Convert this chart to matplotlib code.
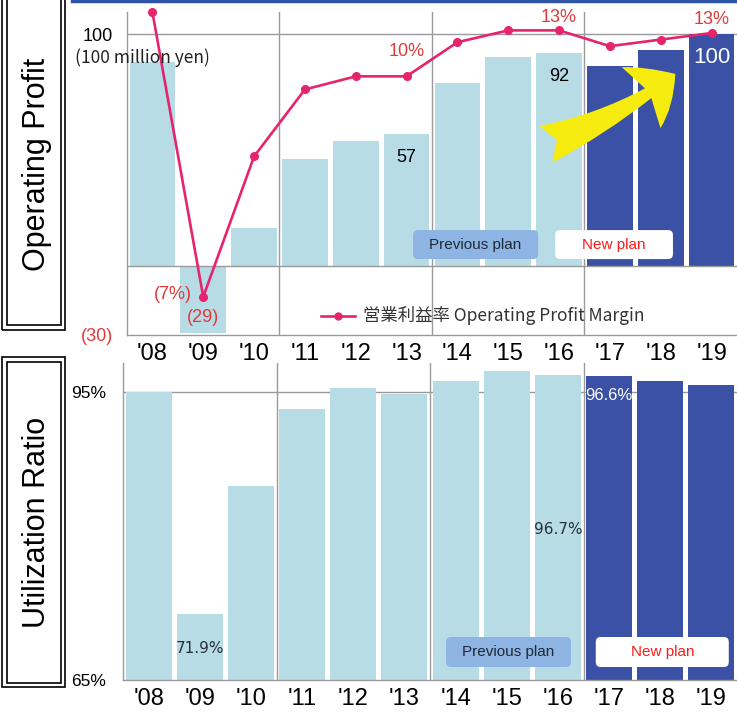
import matplotlib.pyplot as plt
import numpy as np
from matplotlib.patches import Rectangle, FancyBboxPatch, FancyArrowPatch, ArrowStyle
from matplotlib.lines import Line2D

# --- data ---
years = ["'08", "'09", "'10", "'11", "'12", "'13", "'14", "'15", "'16", "'17", "'18", "'19"]
profit = [88, -29, 16, 46, 54, 57, 79, 90, 92, 86, 93, 100]          # 100 million yen
margin = [14.7, -7, 3.7, 8.8, 9.8, 9.8, 12.4, 13.3, 13.3, 12.1, 12.6, 13.1]  # %
utilization = [95.0, 71.9, 85.2, 93.2, 95.4, 94.8, 96.1, 97.2, 96.7, 96.6, 96.1, 95.7]  # %
new_plan = [False] * 9 + [True] * 3

LIGHT = '#B7DCE6'
DARK = '#3A51A5'
PINK = '#E6246E'
RED = '#E03A3A'
GRID = '#9A9A9A'
NARROW = ['Liberation Sans Narrow', 'Liberation Sans', 'DejaVu Sans']
ARIAL = ['Liberation Sans', 'DejaVu Sans']
JP = ['Noto Sans CJK JP', 'DejaVu Sans']

x = np.arange(len(years))
colors = [DARK if n else LIGHT for n in new_plan]

fig = plt.figure(figsize=(7.37, 7.15), dpi=100)


def style_axes(ax, ylim):
    ax.set_xlim(-0.5, 11.5)
    ax.set_ylim(*ylim)
    for s in ['top', 'right']:
        ax.spines[s].set_visible(False)
    for s in ['left', 'bottom']:
        ax.spines[s].set_color(GRID)
        ax.spines[s].set_linewidth(1)
    for xv in [2.5, 5.5, 8.5]:
        ax.axvline(xv, color=GRID, lw=1, zorder=1)
    ax.set_xticks(x, years, fontsize=17, family=NARROW)
    ax.tick_params(axis='both', length=0)
    ax.tick_params(axis='x', pad=6)


def plan_boxes(ax, prev_x, new_x, y0, w_prev, w_new, h, aspect):
    ax.add_patch(FancyBboxPatch((prev_x, y0), w_prev, h, transform=ax.transAxes,
                                boxstyle='round,pad=0,rounding_size=0.008',
                                mutation_aspect=aspect, fc='#8DB4E2', ec='none', zorder=5))
    ax.text(prev_x + w_prev / 2, y0 + h / 2, 'Previous plan', transform=ax.transAxes,
            ha='center', va='center', fontsize=11, family=ARIAL, color='#1F2A36', zorder=6)
    ax.add_patch(FancyBboxPatch((new_x, y0), w_new, h, transform=ax.transAxes,
                                boxstyle='round,pad=0,rounding_size=0.008',
                                mutation_aspect=aspect, fc='white', ec='none', zorder=5))
    ax.text(new_x + w_new / 2, y0 + h / 2, 'New plan', transform=ax.transAxes,
            ha='center', va='center', fontsize=11, family=ARIAL, color='#FF1A1A', zorder=6)


# ---------------- top: operating profit ----------------
ax1 = fig.add_axes([0.1723, 0.5315, 0.8277, 0.4517])
style_axes(ax1, (-30, 109.5))
ax1.bar(x, profit, width=0.9, color=colors, zorder=2)
ax1.axhline(100, color=GRID, lw=1, zorder=1)
ax1.axhline(0, color=GRID, lw=1, zorder=3)
ax1.set_yticks([100, -30], ['100', '(30)'], fontsize=13, family=NARROW)
ax1.get_yticklabels()[1].set_color(RED)
ax1.tick_params(axis='y', pad=10)

for i, lab, c, fs in [(5, '57', 'black', 13), (8, '92', 'black', 13), (11, '100', 'white', 16)]:
    ax1.annotate(lab, (x[i], profit[i]), xytext=(0, -17), textcoords='offset points',
                 ha='center', va='center', fontsize=fs, color=c, family=NARROW, zorder=4)
ax1.annotate('(29)', (x[1], profit[1]), xytext=(0, 11), textcoords='offset points',
             ha='center', va='center', fontsize=13, color=RED, family=NARROW, zorder=4)

plan_boxes(ax1, 0.469, 0.702, 0.235, 0.205, 0.193, 0.0898, 610 / 323)

# margin line on its own scale
ax1b = ax1.twinx()
ax1b.set_ylim(-9.9, 14.7)
ax1b.axis('off')
ax1b.plot(x, margin, color=PINK, lw=1.9, marker='o', ms=5.5, clip_on=False, zorder=5)
for i, lab, dy in [(5, '10%', 18), (8, '13%', 9), (11, '13%', 10)]:
    ax1b.annotate(lab, (x[i], margin[i]), xytext=(0, dy), textcoords='offset points',
                  ha='center', va='center', fontsize=13, color=RED, family=NARROW)
ax1b.annotate('(7%)', (x[1], margin[1]), xytext=(-22, 1.5), textcoords='offset points',
              ha='center', va='center', fontsize=13, color=RED, family=NARROW)

# legend
ax1b.plot([0.318, 0.374], [0.0588, 0.0588], color=PINK, lw=1.9, transform=ax1.transAxes, clip_on=False)
ax1b.plot([0.346], [0.0588], 'o', color=PINK, ms=5, transform=ax1.transAxes, clip_on=False)
ax1b.text(0.387, 0.0588, '営業利益率 Operating Profit Margin', transform=ax1.transAxes,
          ha='left', va='center', fontsize=12.5, family=JP, color='#333333')

# yellow arrow (in profit units)
ax1.add_patch(FancyArrowPatch((7.69, 52), (10.33, 83.5),
                              arrowstyle=ArrowStyle.Fancy(head_length=3.0, head_width=5.2, tail_width=2.8),
                              connectionstyle='arc3,rad=0.08', mutation_scale=10,
                              fc='#F5EB0F', ec='none', zorder=6))

fig.text(75 / 737, 1 - 58 / 715, '(100 million yen)', ha='left', va='center', fontsize=12.5,
         family=JP, color='#222222')

# ---------------- bottom: utilization ratio ----------------
ax2 = fig.add_axes([0.1669, 0.04895, 0.8331, 0.4434])
style_axes(ax2, (65, 98))
ax2.axhline(95, color=GRID, lw=1, zorder=1)
ax2.bar(x, utilization, width=0.9, color=colors, zorder=2)
ax2.set_yticks([65, 95], ['65%', '95%'], fontsize=12.5, family=NARROW)
ax2.tick_params(axis='y', pad=12)

ax2.text(x[1], 68.3, '71.9%', ha='center', va='center', fontsize=11, color='#263238')
ax2.text(x[8], 80.7, '96.7%', ha='center', va='center', fontsize=11, color='#263238')
ax2.annotate('96.6%', (x[9], utilization[9]), xytext=(0, -14), textcoords='offset points',
             ha='center', va='center', fontsize=12, color='white', family=NARROW)

plan_boxes(ax2, 0.526, 0.770, 0.041, 0.2036, 0.2166, 0.0946, 614 / 317)

# ---------------- frame decoration ----------------
fig.add_artist(Line2D([72 / 737, 1], [1 - 1 / 715] * 2, lw=2.5, color='#2E54A8',
                      transform=fig.transFigure))
for top, bottom, label, ymid in [(-5, 330, 'Operating Profit', 164), (357, 687, 'Utilization Ratio', 522)]:
    for off in [0, 4.5]:
        fig.add_artist(Rectangle(((2 + off) / 737, 1 - (bottom - off) / 715),
                                 (63 - 2 * off) / 737, (bottom - top - 2 * off) / 715,
                                 transform=fig.transFigure, fill=False, ec='black', lw=1.2))
    fig.text(37 / 737, 1 - ymid / 715, label,
             rotation=90, ha='center', va='center', fontsize=22, family=ARIAL)

fig.savefig('out.png', dpi=100)
